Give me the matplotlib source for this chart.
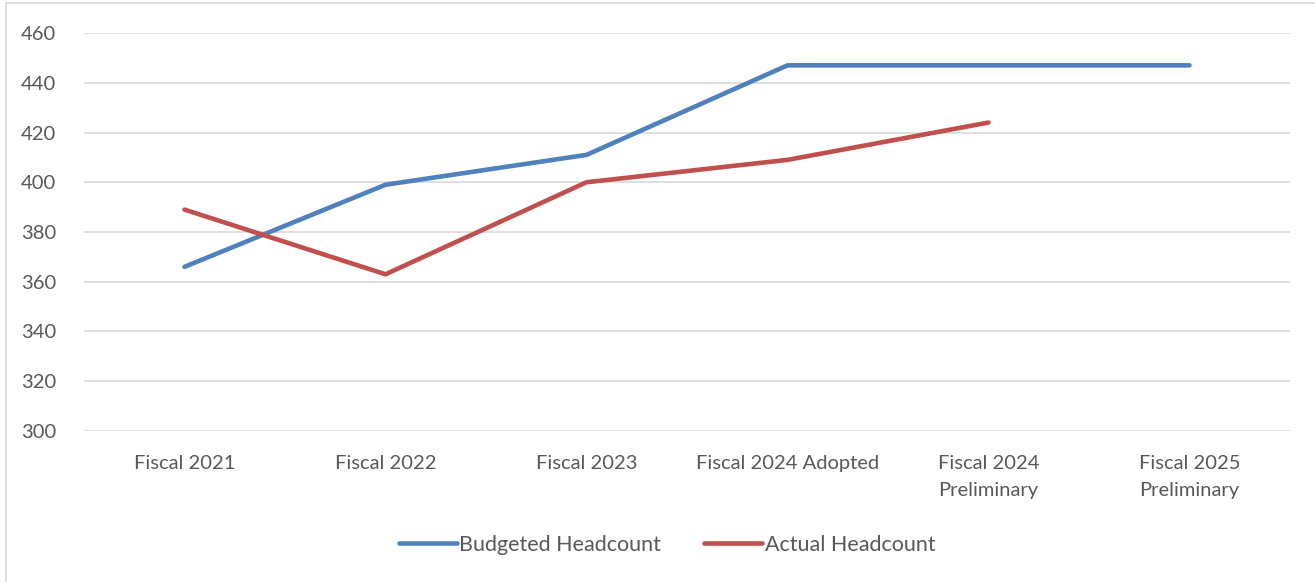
import matplotlib
matplotlib.use("Agg")
import matplotlib.pyplot as plt
from matplotlib.patches import Rectangle
import numpy as np

categories = [
    "Fiscal 2021",
    "Fiscal 2022",
    "Fiscal 2023",
    "Fiscal 2024 Adopted",
    "Fiscal 2024\nPreliminary",
    "Fiscal 2025\nPreliminary",
]
budgeted = [366, 399, 411, 447, 447, 447]
actual = [389, 363, 400, 409, 424, np.nan]
yticks = [300, 320, 340, 360, 380, 400, 420, 440, 460]

plt.rcParams["font.family"] = ["Lato", "DejaVu Sans"]
grey = "#595959"
fs = 14.5

W, H = 1315, 582
fig = plt.figure(figsize=(W / 100, H / 100), dpi=100)
# chart frame border
fig.patches.append(Rectangle((6 / W, -0.1), 1.2, 1 - 3 / H + 0.1, transform=fig.transFigure,
                             fill=False, edgecolor="#D9D9D9", linewidth=1.2))

ax = fig.add_axes([84 / W, 1 - 431 / H, (1290 - 84) / W, (431 - 33) / H])
x = np.arange(len(categories))
ax.plot(x, budgeted, color="#4F81BD", linewidth=3.3, label="Budgeted Headcount",
        solid_capstyle="round")
ax.plot(x, actual, color="#C0504D", linewidth=3.3, label="Actual Headcount",
        solid_capstyle="round")

ax.set_xlim(-0.5, len(categories) - 0.5)
ax.set_ylim(300, 460)
ax.set_yticks(yticks)
ax.set_xticks(x)
ax.set_xticklabels(categories, fontsize=fs, color=grey, linespacing=1.75)
ax.tick_params(axis="y", labelsize=fs, labelcolor=grey, length=0, pad=20)
ax.tick_params(axis="x", length=0, pad=17)
ax.grid(axis="y", color="#D9D9D9", linewidth=1.2)
ax.set_axisbelow(True)
for s in ax.spines.values():
    s.set_visible(False)

leg = fig.legend(loc="center", bbox_to_anchor=(667 / W, 1 - 545 / H), ncol=2, frameon=False,
                 fontsize=15.5, handlelength=2.7, handletextpad=0.12, columnspacing=2.0)
for t in leg.get_texts():
    t.set_color(grey)

fig.savefig("out.png", dpi=100)
